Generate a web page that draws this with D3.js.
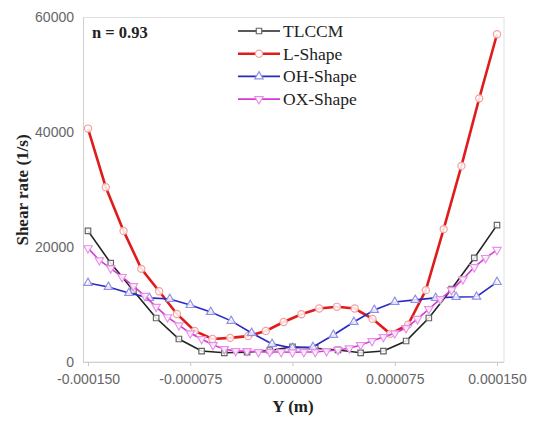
<!DOCTYPE html>
<html><head><meta charset="utf-8">
<script src="https://cdn.jsdelivr.net/npm/d3@7"></script>
<style>body{margin:0;background:#fff}svg{display:block}</style>
</head><body><svg id="c" width="537" height="421"></svg>
<script>
const xTicks = [-0.00015, -0.000075, 0, 0.000075, 0.00015];
const xTickLabels = ["-0.000150", "-0.000075", "0.000000", "0.000075", "0.000150"];
const yTicks = [0, 20000, 40000, 60000];
const yTickLabels = ["0", "20000", "40000", "60000"];
const seriesNames = ["TLCCM", "L-Shape", "OH-Shape", "OX-Shape"];
const tlccm = [22800, 17200, 12400, 7650, 4000, 1900, 1600, 1700, 2000, 2650, 2400, 2100, 1600, 1900, 3650, 7650, 12700, 18100, 23800];
const lShape = [40600, 30400, 22800, 16200, 12300, 8350, 5400, 4000, 4200, 4500, 5400, 6950, 8300, 9300, 9600, 9300, 7500, 4900, 6500, 12500, 23100, 34100, 45850, 57000];
const ohShape = [13750, 13050, 12000, 11150, 10950, 9900, 8700, 7150, 5050, 3150, 2450, 2600, 4700, 6950, 9050, 10450, 10800, 11150, 11300, 11350, 13900];
const oxShape = [19800, 17700, 16300, 14800, 13200, 11500, 9600, 7800, 6400, 5000, 4000, 2950, 2250, 1900, 1900, 1750, 1750, 1750, 1700, 1750, 1750, 1900, 2100, 2400, 2950, 3650, 4350, 5000, 5900, 7500, 9200, 10950, 12500, 14400, 16500, 18100, 19500];
const seriesValues = [tlccm, lShape, ohShape, oxShape];
const colors = ["#222222", "#e01b1b", "#2a2ac0", "#d63ad6"];
const markerStroke = ["#666666", "#f2a0a0", "#9090e8", "#e890e8"];
const markerTypes = [d3.symbolSquare, d3.symbolCircle, d3.symbolTriangle, d3.symbolTriangle];

const svg = d3.select("#c");
const x = d3.scaleLinear().domain([-0.00015, 0.00015]).range([88, 497]);
const y = d3.scaleLinear().domain([0, 60000]).range([362, 17]);

// frame
svg.append("rect").attr("x", 83.5).attr("y", 17.5).attr("width", 420.5).attr("height", 344.5)
  .attr("fill", "none").attr("stroke", "#e0e0e0");

const xAxis = svg.append("g").attr("transform", "translate(0,362)")
  .call(d3.axisBottom(x).tickValues(xTicks).tickFormat((d, i) => xTickLabels[i]).tickSize(4).tickPadding(8));
xAxis.select(".domain").attr("stroke", "#d0d0d0").attr("d", "M83,0.5H504");
xAxis.selectAll(".tick line").attr("stroke", "#c8c8c8");
xAxis.selectAll("text").attr("fill", "#666").attr("font-family", "Liberation Sans, Arial, sans-serif").attr("font-size", 14);

const yAxis = svg.append("g").attr("transform", "translate(83,0)")
  .call(d3.axisLeft(y).tickValues(yTicks).tickFormat((d, i) => yTickLabels[i]).tickSize(0).tickPadding(9));
yAxis.select(".domain").attr("stroke", "#d0d0d0");
yAxis.selectAll("text").attr("fill", "#666").attr("font-family", "Liberation Sans, Arial, sans-serif").attr("font-size", 14);

const line = d3.line().x(d => x(d[0])).y(d => y(d[1]));
const widths = [1.6, 2.6, 1.6, 1.6];

seriesValues.forEach((vals, s) => {
  const n = vals.length;
  const pts = vals.map((v, i) => [-0.00015 + i * 0.0003 / (n - 1), v]);
  svg.append("path").datum(pts).attr("d", line).attr("fill", "none")
    .attr("stroke", colors[s]).attr("stroke-width", widths[s]);
  const sym = d3.symbol().type(markerTypes[s]).size(s === 1 ? 40 : 30);
  svg.append("g").selectAll("path").data(pts).join("path")
    .attr("d", sym)
    .attr("transform", d => `translate(${x(d[0])},${y(d[1])})` + (s === 3 ? " rotate(180)" : ""))
    .attr("fill", "#fff").attr("fill-opacity", 0.85)
    .attr("stroke", markerStroke[s]).attr("stroke-width", 1.2);
});

// legend
const lg = svg.append("g");
seriesNames.forEach((name, s) => {
  const yy = 31 + s * 22.7;
  lg.append("line").attr("x1", 238).attr("x2", 280).attr("y1", yy).attr("y2", yy)
    .attr("stroke", colors[s]).attr("stroke-width", widths[s]);
  lg.append("path").attr("d", d3.symbol().type(markerTypes[s]).size(s === 1 ? 40 : 30))
    .attr("transform", `translate(259,${yy})` + (s === 3 ? " rotate(180)" : ""))
    .attr("fill", "#fff").attr("stroke", markerStroke[s]).attr("stroke-width", 1.2);
  lg.append("text").attr("x", 283).attr("y", yy + 6).text(name)
    .attr("font-family", "Liberation Serif, Times New Roman, serif").attr("font-size", 17.5)
    .attr("fill", "#222");
});

svg.append("text").attr("x", 92).attr("y", 38).text("n = 0.93")
  .attr("font-family", "Liberation Serif, serif").attr("font-weight", "bold").attr("font-size", 16.5).attr("fill", "#222");

svg.append("text").attr("transform", "translate(28,190) rotate(-90)").attr("text-anchor", "middle")
  .text("Shear rate (1/s)")
  .attr("font-family", "Liberation Serif, serif").attr("font-weight", "bold").attr("font-size", 17).attr("fill", "#222");

svg.append("text").attr("x", 293).attr("y", 412).attr("text-anchor", "middle").text("Y (m)")
  .attr("font-family", "Liberation Serif, serif").attr("font-weight", "bold").attr("font-size", 17).attr("fill", "#222");
</script></body></html>
